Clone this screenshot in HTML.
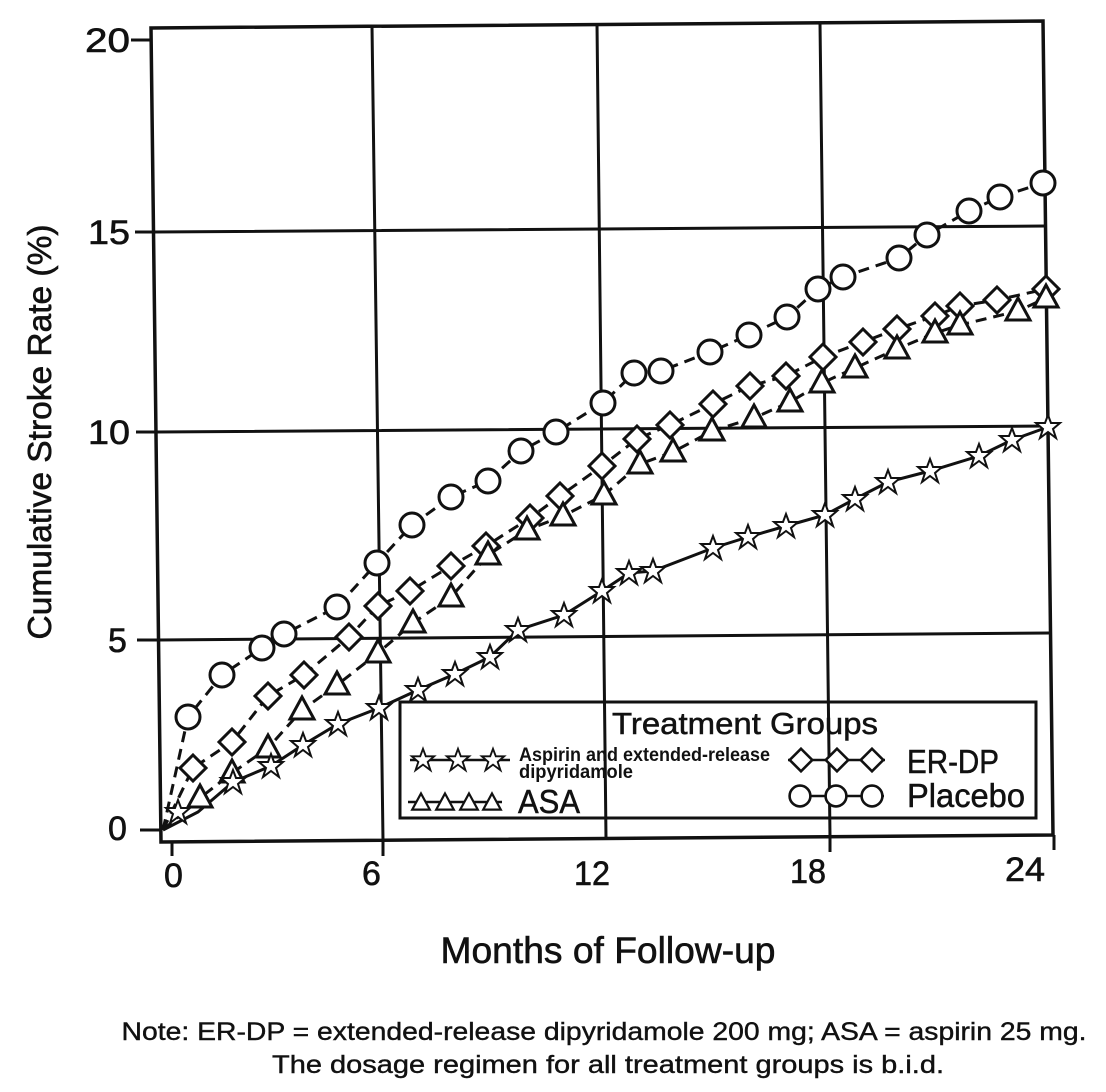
<!DOCTYPE html>
<html><head><meta charset="utf-8"><style>
html,body{margin:0;padding:0;background:#fff}
svg{display:block}
text{font-family:"Liberation Sans",sans-serif;fill:#111}
</style></head><body>
<svg width="1106" height="1092" viewBox="0 0 1106 1092" xmlns="http://www.w3.org/2000/svg">
<defs>
<symbol id="c" viewBox="-15 -15 30 30" overflow="visible"><circle r="12" fill="#fff" stroke="#111" stroke-width="3"/></symbol>
<symbol id="d" viewBox="-15 -15 30 30" overflow="visible"><path d="M0,-13 L13,0 L0,13 L-13,0Z" fill="#fff" stroke="#111" stroke-width="3"/></symbol>
<symbol id="t" viewBox="-15 -15 30 30" overflow="visible"><path d="M0,-13 L12,9 L-12,9Z" fill="#fff" stroke="#111" stroke-width="3"/></symbol>
<symbol id="s" viewBox="-15 -15 30 30" overflow="visible"><path d="M0,-12 L3,-4 L12,-4 L5,2 L8,11 L0,5 L-8,11 L-5,2 L-12,-4 L-3,-4Z" fill="#fff" stroke="#111" stroke-width="2"/></symbol>
</defs>
<g stroke="#111" fill="none">
<path d="M151,28 L1043,21 L1053,835 L161,842 Z" stroke-width="3.5"/>
<path d="M372,26 L383,840 M597,24 L606,838 M820,23 L830,836" stroke-width="3"/>
<path d="M153,232 L1046,226 M156,432 L1048,426 M158,640 L1050,633" stroke-width="3"/>
<path d="M131,40 L151,40 M135,232 L153,232 M136,432 L156,432 M137,640 L158,640 M140,830 L161,830" stroke-width="3"/>
<path d="M172,842 L172,856 M383,840 L383,856 M830,836 L830,852 M1054,835 L1054,850" stroke-width="3"/>
</g>
<g font-size="34" stroke="#111" stroke-width="0.6">
<text x="85" y="52" textLength="45" lengthAdjust="spacingAndGlyphs">20</text>
<text x="88" y="244" textLength="42" lengthAdjust="spacingAndGlyphs">15</text>
<text x="88" y="444" textLength="42" lengthAdjust="spacingAndGlyphs">10</text>
<text x="108" y="652">5</text>
<text x="108" y="840">0</text>
<text x="164" y="887">0</text><text x="362" y="885">6</text>
<text x="574" y="885" textLength="36" lengthAdjust="spacingAndGlyphs">12</text>
<text x="790" y="883" textLength="36" lengthAdjust="spacingAndGlyphs">18</text>
<text x="1005" y="881" textLength="40" lengthAdjust="spacingAndGlyphs">24</text>
</g>
<text transform="translate(51,432) rotate(-90)" text-anchor="middle" font-size="33" stroke="#111" stroke-width="0.6" textLength="415" lengthAdjust="spacingAndGlyphs">Cumulative Stroke Rate (%)</text>
<text x="608" y="963" text-anchor="middle" font-size="37" stroke="#111" stroke-width="0.6" textLength="335" lengthAdjust="spacingAndGlyphs">Months of Follow-up</text>
<text x="604" y="1040" text-anchor="middle" font-size="25" stroke="#111" stroke-width="0.4" textLength="965" lengthAdjust="spacingAndGlyphs">Note: ER-DP = extended-release dipyridamole 200 mg; ASA = aspirin 25 mg.</text>
<text x="608" y="1073" text-anchor="middle" font-size="25" stroke="#111" stroke-width="0.4" textLength="672" lengthAdjust="spacingAndGlyphs">The dosage regimen for all treatment groups is b.i.d.</text>

<g fill="none" stroke="#111" stroke-width="3" stroke-dasharray="11 7">
<polyline points="163,830 188,717 222,675 262,648 284,634 337,607 377,563 412,525 451,497 488,481 521,451 556,432 603,403 634,373 661,371 710,352 749,335 787,317 818,289 843,277 899,258 927,235 969,211 1000,197 1043,183"/>
<polyline points="163,830 193,768 232,742 268,696 304,675 349,637 378,606 410,591 451,566 486,546 530,518 560,496 602,466 637,439 670,425 713,404 750,386 786,376 823,357 863,342 897,329 935,316 960,306 997,300 1046,289"/>
<polyline points="163,830 200,798 232,773 268,748 302,710 337,685 378,653 413,623 451,597 488,555 527,530 563,516 604,495 640,464 673,452 712,431 754,418 790,402 822,383 855,368 897,349 935,333 960,325 1018,311 1046,298"/>
</g>
<polyline fill="none" stroke="#111" stroke-width="3" points="163,830 198,812 233,782 271,766 303,745 338,724 379,708 418,690 455,674 490,657 518,630 564,615 602,591 629,573 653,571 713,548 748,537 786,526 825,515 855,499 888,482 930,471 979,456 1012,440 1048,427"/>

<g stroke="#111" stroke-width="2.5">
<path d="M410,760 L510,760 M408,802 L502,802 M788,760 L885,760 M790,796 L884,796"/>
</g>
<g id="pts"></g>
<script>
var g=document.getElementById('pts');
function add(id,pts,sz){sz=sz||30;pts.split(' ').forEach(function(p){var a=p.split(',');var u=document.createElementNS('http://www.w3.org/2000/svg','use');u.setAttribute('href','#'+id);u.setAttribute('x',a[0]-sz/2);u.setAttribute('y',a[1]-sz/2);u.setAttribute('width',sz);u.setAttribute('height',sz);g.appendChild(u);});}
add('c','188,717 222,675 262,648 284,634 337,607 377,563 412,525 451,497 488,481 521,451 556,432 603,403 634,373 661,371 710,352 749,335 787,317 818,289 843,277 899,258 927,235 969,211 1000,197 1043,183');
add('d','193,768 232,742 268,696 304,675 349,637 378,606 410,591 451,566 486,546 530,518 560,496 602,466 637,439 670,425 713,404 750,386 786,376 823,357 863,342 897,329 935,316 960,306 997,300 1046,289');
add('t','200,798 232,773 268,748 302,710 337,685 378,653 413,623 451,597 488,555 527,530 563,516 604,495 640,464 673,452 712,431 754,418 790,402 822,383 855,368 897,349 935,333 960,325 1018,311 1046,298');
add('s','178,812 233,782 271,766 303,745 338,724 379,708 418,690 455,674 490,657 518,630 564,615 602,591 629,573 653,571 713,548 748,537 786,526 825,515 855,499 888,482 930,471 979,456 1012,440 1048,427');
add('s','423,760 458,760 493,760',28);
add('t','421,803 445,803 469,803 492,803',22);
add('d','801,760 837,760 872,760',26);
add('c','800,796 836,796 872,796',26);
</script>
<rect x="400" y="702" width="636" height="116" fill="none" stroke="#111" stroke-width="3"/>
<text x="612" y="734" font-size="31" stroke="#111" stroke-width="0.5" textLength="266" lengthAdjust="spacingAndGlyphs">Treatment Groups</text>
<text x="519" y="761" font-size="19" font-weight="bold" textLength="251" lengthAdjust="spacingAndGlyphs">Aspirin and extended-release</text>
<text x="519" y="778" font-size="19" font-weight="bold" textLength="114" lengthAdjust="spacingAndGlyphs">dipyridamole</text>
<text x="518" y="813" font-size="33" stroke="#111" stroke-width="0.5" textLength="62" lengthAdjust="spacingAndGlyphs">ASA</text>
<text x="907" y="773" font-size="33" stroke="#111" stroke-width="0.5" textLength="92" lengthAdjust="spacingAndGlyphs">ER-DP</text>
<text x="907" y="807" font-size="33" stroke="#111" stroke-width="0.5" textLength="118" lengthAdjust="spacingAndGlyphs">Placebo</text>
</svg>
</body></html>
